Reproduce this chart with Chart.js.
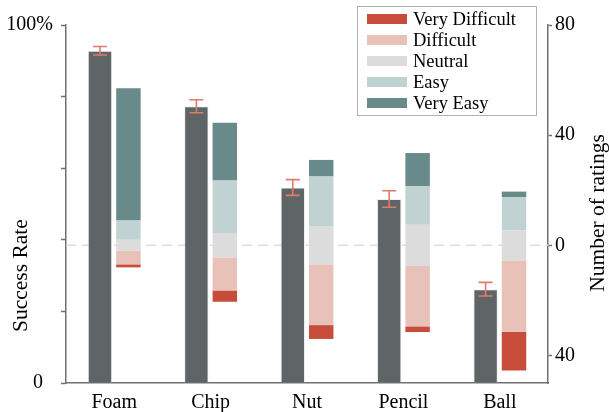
<!DOCTYPE html>
<html lang="en">
<head>
<meta charset="UTF-8">
<title>Success Rate and Ratings</title>
<script src="https://cdn.jsdelivr.net/npm/chart.js"></script>
<style>
    html, body {
        margin: 0;
        padding: 0;
        background: #fff;
    }
    #wrap {
        width: 609px;
        height: 412px;
    }
</style>
</head>
<body>
<div id="wrap"><canvas id="chart"></canvas></div>
<script>
// values
const objects = ['Foam', 'Chip', 'Nut', 'Pencil', 'Ball'];
const successRate = [92.8, 77.3, 54.6, 51.4, 26.2];
const successErr = [1.2, 1.8, 2.2, 2.3, 1.9];

const veryDifficult = [1, 4, 5, 2, 14];
const difficult = [5, 12, 22, 22, 26];
const neutral = [4, 9, 14, 15, 11];
const easy = [7, 19, 18, 14, 12];
const veryEasy = [48, 21, 6, 12, 2];

const rateTicks = [0, 20, 40, 60, 80, 100];
const countTicks = [-40, 0, 40, 80];

const serif = "'Liberation Serif', 'DejaVu Serif', serif";
const axisColor = '#707070';

// diverging layout: neutral centred on zero, easy above, difficult below
const half = neutral.map(n => n / 2);
const seg = {
    veryDifficult: objects.map((_, i) => [-half[i] - difficult[i] - veryDifficult[i], -half[i] - difficult[i]]),
    difficult: objects.map((_, i) => [-half[i] - difficult[i], -half[i]]),
    neutral: objects.map((_, i) => [-half[i], half[i]]),
    easy: objects.map((_, i) => [half[i], half[i] + easy[i]]),
    veryEasy: objects.map((_, i) => [half[i] + easy[i], half[i] + easy[i] + veryEasy[i]])
};

function ratingSet(label, data, color) {
    return {
        label: label,
        data: data,
        backgroundColor: color,
        borderWidth: 0,
        yAxisID: 'yCount',
        stack: 'ratings'
    };
}

const extras = {
    id: 'extras',
    beforeDatasetsDraw(chart) {
        const {ctx, chartArea} = chart;
        const y = chart.scales.yCount.getPixelForValue(0);
        ctx.save();
        ctx.strokeStyle = '#dddddd';
        ctx.lineWidth = 1.5;
        ctx.setLineDash([10, 6]);
        ctx.beginPath();
        ctx.moveTo(chartArea.left, y);
        ctx.lineTo(chartArea.right, y);
        ctx.stroke();
        ctx.restore();
    },
    afterDatasetsDraw(chart) {
        const {ctx} = chart;
        const yr = chart.scales.yRate;
        const meta = chart.getDatasetMeta(0);
        ctx.save();
        ctx.strokeStyle = '#e07b6b';
        ctx.lineWidth = 1.6;
        meta.data.forEach((bar, i) => {
            const top = yr.getPixelForValue(successRate[i] + successErr[i]);
            const bot = yr.getPixelForValue(successRate[i] - successErr[i]);
            ctx.beginPath();
            ctx.moveTo(bar.x, top);
            ctx.lineTo(bar.x, bot);
            ctx.moveTo(bar.x - 7, top);
            ctx.lineTo(bar.x + 7, top);
            ctx.moveTo(bar.x - 7, bot);
            ctx.lineTo(bar.x + 7, bot);
            ctx.stroke();
        });
        ctx.restore();
    },
    afterDraw(chart) {
        const {ctx, chartArea} = chart;
        ctx.save();

        // axis titles
        ctx.fillStyle = '#000';
        ctx.font = '21.5px ' + serif;
        ctx.textAlign = 'center';
        ctx.textBaseline = 'alphabetic';
        ctx.save();
        ctx.translate(27, chartArea.top + chartArea.height * 0.70);
        ctx.rotate(-Math.PI / 2);
        ctx.fillText('Success Rate', 0, 0);
        ctx.restore();
        ctx.save();
        ctx.translate(604, chartArea.top + chartArea.height * 0.525);
        ctx.rotate(-Math.PI / 2);
        ctx.fillText('Number of ratings', 0, 0);
        ctx.restore();

        // legend box in the upper right of the plot
        const bx = chartArea.right - 191, by = 6, bw = 179, bh = 109;
        ctx.fillStyle = 'rgba(255,255,255,0.9)';
        ctx.fillRect(bx, by, bw, bh);
        ctx.strokeStyle = '#b0b0b0';
        ctx.lineWidth = 1;
        ctx.strokeRect(bx + 0.5, by + 0.5, bw, bh);
        ctx.font = '18.5px ' + serif;
        ctx.textAlign = 'left';
        chart.data.datasets.slice(1).forEach((ds, i) => {
            const cy = by + 13 + i * 21;
            ctx.fillStyle = ds.backgroundColor;
            ctx.fillRect(bx + 10, cy - 5, 40, 10);
            ctx.fillStyle = '#000';
            ctx.fillText(ds.label, bx + 56, cy + 6);
        });
        ctx.restore();
    }
};

const ctx = document.getElementById('chart').getContext('2d');
new Chart(ctx, {
    type: 'bar',
    data: {
        labels: objects,
        datasets: [
            {
                label: 'Success Rate',
                data: successRate,
                backgroundColor: '#5f6467',
                borderColor: 'rgba(235,235,235,0.8)',
                borderWidth: 1,
                yAxisID: 'yRate',
                stack: 'rate'
            },
            ratingSet('Very Difficult', seg.veryDifficult, '#c84c3a'),
            ratingSet('Difficult', seg.difficult, '#e8c1b8'),
            ratingSet('Neutral', seg.neutral, '#dcdcdc'),
            ratingSet('Easy', seg.easy, '#c0d2d1'),
            ratingSet('Very Easy', seg.veryEasy, '#688a8a')
        ]
    },
    options: {
        responsive: true,
        maintainAspectRatio: false,
        animation: false,
        categoryPercentage: 0.59,
        barPercentage: 0.86,
        layout: {
            padding: {top: 25}
        },
        plugins: {
            legend: {display: false},
            tooltip: {enabled: false}
        },
        scales: {
            x: {
                grid: {display: false},
                border: {display: true, color: axisColor, width: 1.5},
                ticks: {
                    color: '#000',
                    font: {family: serif, size: 20},
                    padding: 0,
                    maxRotation: 0
                },
                afterFit(scale) { scale.height = 29; }
            },
            yRate: {
                position: 'left',
                min: 0,
                max: 100,
                stacked: false,
                afterBuildTicks(scale) { scale.ticks = rateTicks.map(v => ({value: v})); },
                grid: {drawOnChartArea: false, tickLength: 5, tickColor: axisColor, tickWidth: 1.5},
                border: {display: true, color: axisColor, width: 1.5},
                ticks: {
                    color: '#000',
                    font: {family: serif, size: 20},
                    padding: 8,
                    callback: v => v === 100 ? '100%' : (v === 0 ? '0  ' : '')
                },
                afterFit(scale) { scale.width = 66; }
            },
            yCount: {
                position: 'right',
                min: -50,
                max: 80,
                stacked: false,
                afterBuildTicks(scale) { scale.ticks = countTicks.map(v => ({value: v})); },
                grid: {drawOnChartArea: false, tickLength: 4, tickColor: axisColor, tickWidth: 1.5},
                border: {display: true, color: axisColor, width: 1.5},
                ticks: {
                    color: '#000',
                    font: {family: serif, size: 20},
                    padding: 3,
                    callback: v => Math.abs(v)
                },
                afterFit(scale) { scale.width = 61; }
            }
        }
    },
    plugins: [extras]
});
</script>
</body>
</html>
